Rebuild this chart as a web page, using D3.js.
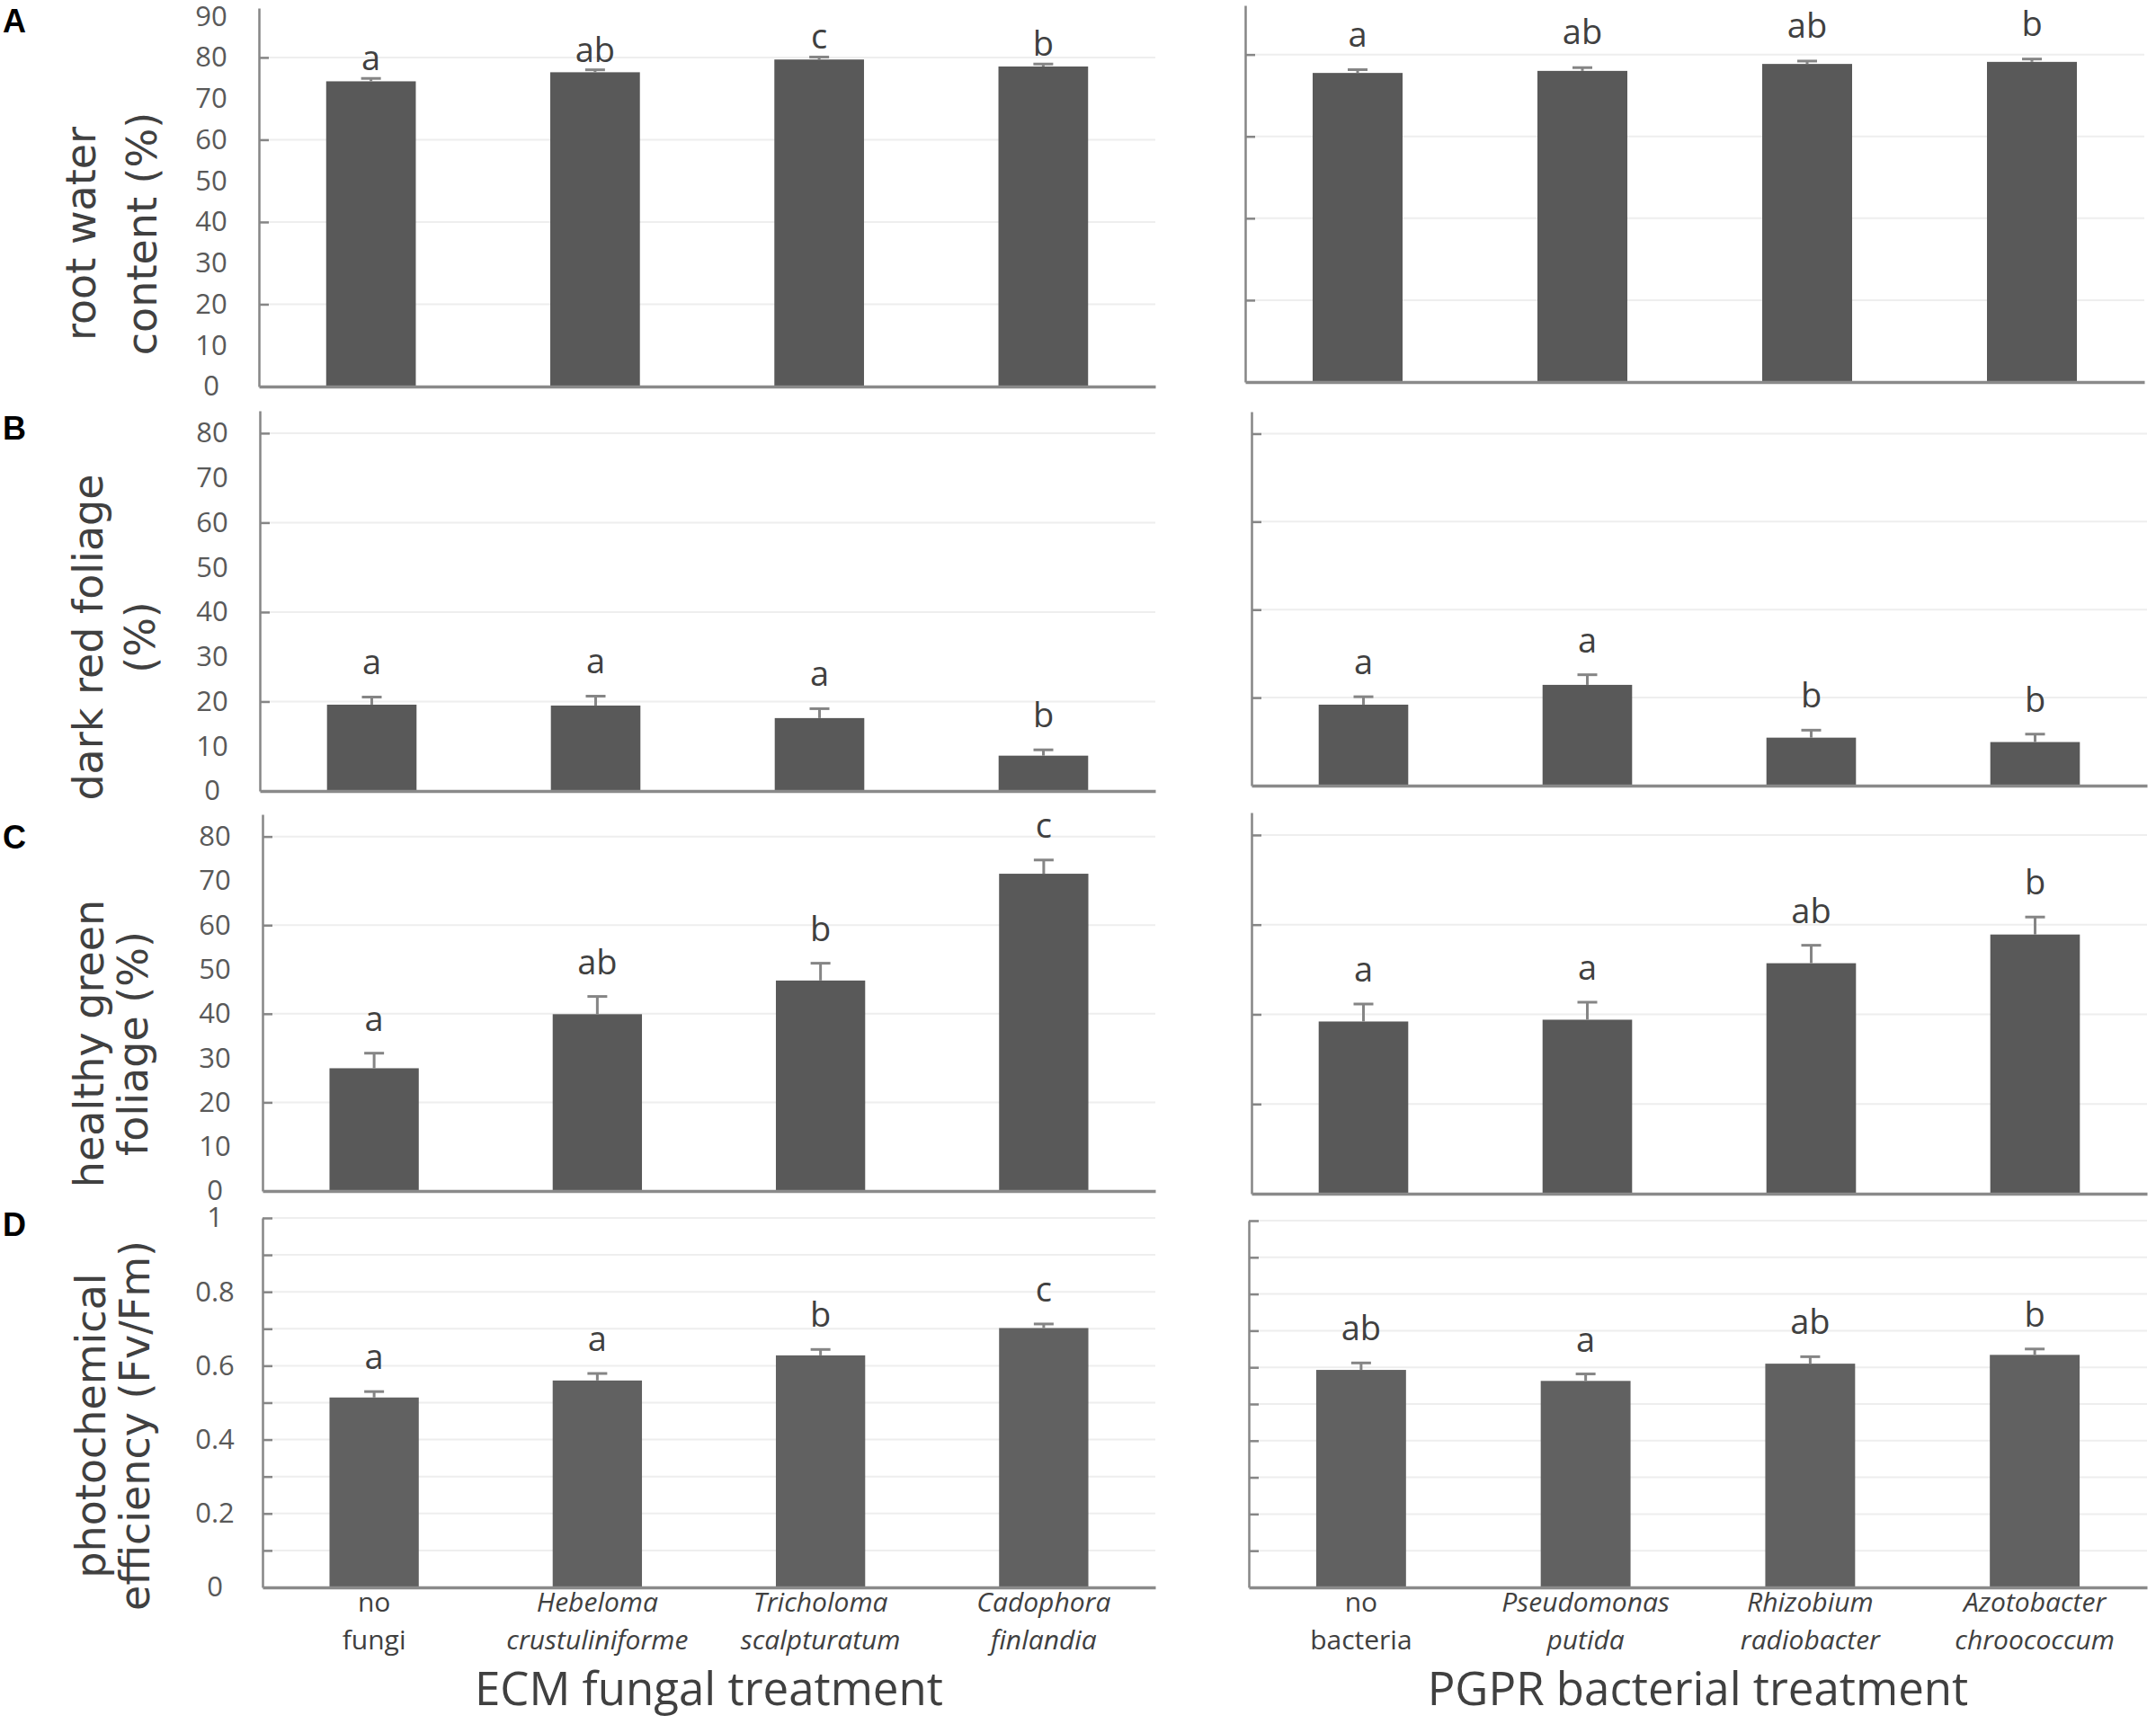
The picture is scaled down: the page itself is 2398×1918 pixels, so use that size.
<!DOCTYPE html>
<html>
<head>
<meta charset="utf-8">
<script src="https://cdn.jsdelivr.net/npm/d3@7"></script>
<style>
  body { margin: 0; background: #fff; }
  svg { display: block; }
</style>
</head>
<body>
<svg id="chart" width="2398" height="1918"></svg>
<script>
// treatments (x categories), one list per column
var fungalTreatments = ['no fungi', 'Hebeloma crustuliniforme', 'Tricholoma scalpturatum', 'Cadophora finlandia']
var bacterialTreatments = ['no bacteria', 'Pseudomonas putida', 'Rhizobium radiobacter', 'Azotobacter chroococcum']
var columnTitles = ['ECM fungal treatment', 'PGPR bacterial treatment']

// y axis titles and panel tags, one per row
var rowTags = ['A', 'B', 'C', 'D']
var rowTitles = [
  ['root water', 'content (%)'],
  ['dark red foliage', '(%)'],
  ['healthy green', 'foliage (%)'],
  ['photochemical', 'efficiency (Fv/Fm)']
]

// A - root water content (%)
var rwcFungi = [74.2, 76.4, 79.5, 77.8]
var rwcFungiSE = [0.7, 0.6, 0.6, 0.6]
var rwcFungiLetters = ['a', 'ab', 'c', 'b']
var rwcBacteria = [75.5, 76.0, 77.7, 78.2]
var rwcBacteriaSE = [0.8, 0.8, 0.7, 0.7]
var rwcBacteriaLetters = ['a', 'ab', 'ab', 'b']

// B - dark red foliage (%)
var redFungi = [19.3, 19.1, 16.3, 7.9]
var redFungiSE = [1.7, 2.1, 2.1, 1.3]
var redFungiLetters = ['a', 'a', 'a', 'b']
var redBacteria = [18.4, 22.9, 10.9, 9.9]
var redBacteriaSE = [1.8, 2.3, 1.7, 1.8]
var redBacteriaLetters = ['a', 'a', 'b', 'b']

// C - healthy green foliage (%)
var greenFungi = [27.7, 39.9, 47.5, 71.6]
var greenFungiSE = [3.4, 4.0, 3.9, 3.1]
var greenFungiLetters = ['a', 'ab', 'b', 'c']
var greenBacteria = [38.4, 38.8, 51.4, 57.8]
var greenBacteriaSE = [3.9, 3.9, 4.0, 3.9]
var greenBacteriaLetters = ['a', 'a', 'ab', 'b']

// D - photochemical efficiency (Fv/Fm)
var fvfmFungi = [0.514, 0.560, 0.628, 0.702]
var fvfmFungiSE = [0.016, 0.019, 0.016, 0.011]
var fvfmFungiLetters = ['a', 'a', 'b', 'c']
var fvfmBacteria = [0.593, 0.563, 0.610, 0.634]
var fvfmBacteriaSE = [0.019, 0.019, 0.019, 0.016]
var fvfmBacteriaLetters = ['ab', 'a', 'ab', 'b']

// y axis extents and ticks per row
var axisTops = [92, 85, 85, 1.0]
var labelTicks = [
  [0, 10, 20, 30, 40, 50, 60, 70, 80, 90],
  [0, 10, 20, 30, 40, 50, 60, 70, 80],
  [0, 10, 20, 30, 40, 50, 60, 70, 80],
  [0, 0.2, 0.4, 0.6, 0.8, 1]
]
var markTicks = [
  [20, 40, 60, 80],
  [20, 40, 60, 80],
  [20, 40, 60, 80],
  [0.1, 0.2, 0.3, 0.4, 0.5, 0.6, 0.7, 0.8, 0.9, 1.0]
]

var means = [[rwcFungi, rwcBacteria], [redFungi, redBacteria], [greenFungi, greenBacteria], [fvfmFungi, fvfmBacteria]]
var errors = [[rwcFungiSE, rwcBacteriaSE], [redFungiSE, redBacteriaSE], [greenFungiSE, greenBacteriaSE], [fvfmFungiSE, fvfmBacteriaSE]]
var letters = [[rwcFungiLetters, rwcBacteriaLetters], [redFungiLetters, redBacteriaLetters],
  [greenFungiLetters, greenBacteriaLetters], [fvfmFungiLetters, fvfmBacteriaLetters]]
var treatments = [fungalTreatments, bacterialTreatments]

// pixel frame of each panel: x0..x1 for the x axis, yb = baseline, yt = axis top
var layout = [
  [{ x0: 288, x1: 1285, yb: 430, yt: 9 }, { x0: 1385, x1: 2385, yb: 425, yt: 6 }],
  [{ x0: 289, x1: 1285, yb: 880, yt: 457 }, { x0: 1392, x1: 2388, yb: 874, yt: 458 }],
  [{ x0: 292, x1: 1285, yb: 1325, yt: 906 }, { x0: 1392, x1: 2388, yb: 1328, yt: 904 }],
  [{ x0: 292, x1: 1285, yb: 1766, yt: 1355 }, { x0: 1389, x1: 2388, yb: 1766, yt: 1358 }]
]
var tagBaselines = [36, 489, 944, 1375]
var titleCenters = [260, 709, 1161, 1586]
var titleBaselines = [[106, 174], [114, 172], [115, 164], [117, 166]]
var letterGaps = [[9, 26], [25, 25], [25, 25], [25, 25]]

var svg = d3.select('#chart')
var sans = "'Open Sans', sans-serif"

rowTags.forEach(function (tag, r) {
  // panel tag
  svg.append('text')
    .attr('x', 3)
    .attr('y', tagBaselines[r])
    .style('font-family', "'Liberation Sans', Arial, sans-serif")
    .style('font-weight', 'bold')
    .style('font-size', '36px')
    .style('fill', '#000')
    .text(tag)

  // y title, two rotated lines
  rowTitles[r].forEach(function (line, k) {
    svg.append('text')
      .attr('transform', 'translate(' + titleBaselines[r][k] + ',' + titleCenters[r] + ') rotate(-90)')
      .attr('text-anchor', 'middle')
      .style('font-family', "'DejaVu Sans', Verdana, sans-serif")
      .style('font-size', '46px')
      .style('fill', '#404040')
      .text(line)
  })

  layout[r].forEach(function (box, c) {
    var names = treatments[c]
    var x = d3.scaleBand()
      .domain(names)
      .range([box.x0, box.x1])
      .paddingInner(0.6)
      .paddingOuter(0.3)
    var y = d3.scaleLinear()
      .domain([0, axisTops[r]])
      .range([box.yb, box.yt])

    var g = svg.append('g')

    // faint gridlines
    g.append('g').selectAll('line')
      .data(markTicks[r])
      .enter().append('line')
      .attr('x1', box.x0)
      .attr('x2', box.x1)
      .attr('y1', function (d) { return y(d) })
      .attr('y2', function (d) { return y(d) })
      .style('stroke', '#eeeeee')
      .style('stroke-width', 2)

    var rows = names.map(function (n, i) {
      return { name: n, mean: means[r][c][i], se: errors[r][c][i], letter: letters[r][c][i] }
    })

    // bars
    g.append('g').selectAll('rect')
      .data(rows)
      .enter().append('rect')
      .attr('x', function (d) { return x(d.name) })
      .attr('width', x.bandwidth())
      .attr('y', function (d) { return y(d.mean) })
      .attr('height', function (d) { return y(0) - y(d.mean) })
      .style('fill', r === 3 ? '#616161' : '#595959')

    // error bars
    var err = g.append('g').selectAll('g')
      .data(rows)
      .enter().append('g')
      .style('stroke', '#858585')
      .style('stroke-width', 3)
    err.append('line')
      .attr('x1', function (d) { return x(d.name) + x.bandwidth() / 2 })
      .attr('x2', function (d) { return x(d.name) + x.bandwidth() / 2 })
      .attr('y1', function (d) { return y(d.mean) })
      .attr('y2', function (d) { return y(d.mean + d.se) })
    err.append('line')
      .attr('x1', function (d) { return x(d.name) + x.bandwidth() / 2 - 11 })
      .attr('x2', function (d) { return x(d.name) + x.bandwidth() / 2 + 11 })
      .attr('y1', function (d) { return y(d.mean + d.se) })
      .attr('y2', function (d) { return y(d.mean + d.se) })

    // significance letters
    g.append('g').selectAll('text')
      .data(rows)
      .enter().append('text')
      .attr('x', function (d) { return x(d.name) + x.bandwidth() / 2 })
      .attr('y', function (d) { return y(d.mean + d.se) - letterGaps[r][c] })
      .attr('text-anchor', 'middle')
      .style('font-family', sans)
      .style('font-size', '38px')
      .style('fill', '#404040')
      .text(function (d) { return d.letter })

    // y axis line with inner tick marks
    var yAxis = g.append('g')
      .attr('transform', 'translate(' + box.x0 + ',0)')
      .call(d3.axisRight(y).tickValues(markTicks[r]).tickSize(11).tickSizeOuter(0).tickFormat(''))
    yAxis.selectAll('path, line').style('stroke', '#868686').style('stroke-width', 2.5)

    // y tick labels on the left column only
    if (c === 0) {
      var fmt = r === 3 ? d3.format('~g') : d3.format('d')
      var labels = g.append('g')
        .attr('transform', 'translate(' + box.x0 + ',0)')
        .call(d3.axisLeft(y).tickValues(labelTicks[r]).tickSize(0).tickFormat(fmt))
      labels.select('.domain').remove()
      labels.selectAll('text')
        .attr('x', -53)
        .attr('text-anchor', 'middle')
        .style('font-family', sans)
        .style('font-size', '31px')
        .style('fill', '#595959')
    }

    // x axis line
    var xAxis = g.append('g')
      .attr('transform', 'translate(0,' + box.yb + ')')
      .call(d3.axisBottom(x).tickSize(0).tickSizeOuter(0).tickFormat(''))
    xAxis.select('.domain').style('stroke', '#8a8a8a').style('stroke-width', 3.5)

    // category labels and column title under the bottom row
    if (r === rowTags.length - 1) {
      var cat = g.append('g').selectAll('text')
        .data(names)
        .enter().append('text')
        .attr('text-anchor', 'middle')
        .style('font-family', sans)
        .style('font-size', '30px')
        .style('fill', '#404040')
        .style('font-style', function (d, i) { return i > 0 ? 'italic' : 'normal' })
      cat.selectAll('tspan')
        .data(function (d) { return d.split(' ') })
        .enter().append('tspan')
        .attr('x', function () { var n = this.parentNode.__data__; return x(n) + x.bandwidth() / 2 })
        .attr('y', function (d, k) { return box.yb + 27 + k * 42 })
        .text(function (d) { return d })

      g.append('text')
        .attr('x', (box.x0 + box.x1) / 2)
        .attr('y', 1897)
        .attr('text-anchor', 'middle')
        .style('font-family', sans)
        .style('font-size', '51px')
        .style('fill', '#404040')
        .text(columnTitles[c])
    }
  })
})
</script>
</body>
</html>
